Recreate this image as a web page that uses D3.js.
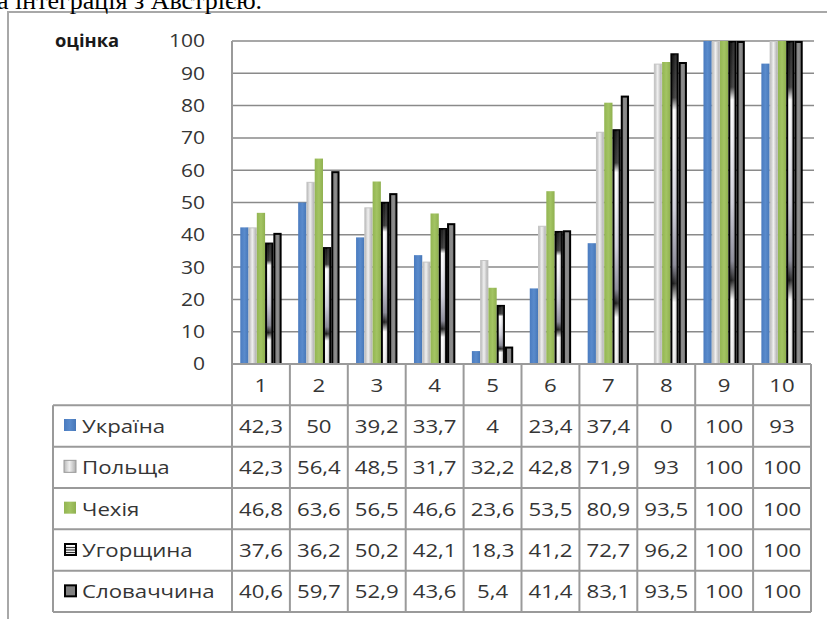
<!DOCTYPE html>
<html>
<head>
<meta charset="utf-8">
<script src="https://cdn.jsdelivr.net/npm/d3@7/dist/d3.min.js"></script>
<style>
  html, body { margin: 0; padding: 0; background: #fff; }
  svg { display: block; }
</style>
</head>
<body>
<svg id="chart" width="827" height="619"></svg>
<script>
// Categories (question numbers) and scores per country
const categories = ["1", "2", "3", "4", "5", "6", "7", "8", "9", "10"];
const seriesNames = ["Україна", "Польща", "Чехія", "Угорщина", "Словаччина"];
const ukraine  = [42.3, 50, 39.2, 33.7, 4, 23.4, 37.4, 0, 100, 93];
const poland   = [42.3, 56.4, 48.5, 31.7, 32.2, 42.8, 71.9, 93, 100, 100];
const czechia  = [46.8, 63.6, 56.5, 46.6, 23.6, 53.5, 80.9, 93.5, 100, 100];
const hungary  = [37.6, 36.2, 50.2, 42.1, 18.3, 41.2, 72.7, 96.2, 100, 100];
const slovakia = [40.6, 59.7, 52.9, 43.6, 5.4, 41.4, 83.1, 93.5, 100, 100];
const tableLabels = [
  ["42,3", "50", "39,2", "33,7", "4", "23,4", "37,4", "0", "100", "93"],
  ["42,3", "56,4", "48,5", "31,7", "32,2", "42,8", "71,9", "93", "100", "100"],
  ["46,8", "63,6", "56,5", "46,6", "23,6", "53,5", "80,9", "93,5", "100", "100"],
  ["37,6", "36,2", "50,2", "42,1", "18,3", "41,2", "72,7", "96,2", "100", "100"],
  ["40,6", "59,7", "52,9", "43,6", "5,4", "41,4", "83,1", "93,5", "100", "100"]
];
const yTicks = [0, 10, 20, 30, 40, 50, 60, 70, 80, 90, 100];
const yTitle = "оцінка";
const caption = "а інтеграція з Австрією.";

const seriesValues = [ukraine, poland, czechia, hungary, slovakia];
const series = seriesNames.map((name, i) => ({ name, values: seriesValues[i], idx: i }));

const svg = d3.select("#chart");
const FONT = "'Open Sans', 'Noto Sans', sans-serif";
const TEXT = "#353535";
const LINE = "#9a9a9a";
const WIDEN = 1.17;   // horizontal widening of the table and axis lettering

const plot = { left: 232, right: 811, top: 41, bottom: 364 };
const tableLeft = 53, tableBottom = 612;

// Gradients for the bar fills
const defs = svg.append("defs");
function linGrad(id, horizontal, stops) {
  const g = defs.append("linearGradient").attr("id", id)
    .attr("x1", 0).attr("y1", 0)
    .attr("x2", horizontal ? 1 : 0).attr("y2", horizontal ? 0 : 1);
  stops.forEach(([o, c]) => g.append("stop").attr("offset", o).attr("stop-color", c));
}
linGrad("gBlue", true, [[0, "#4a7bbf"], [0.5, "#5a8bcc"], [1, "#4677b8"]]);
linGrad("gGray", true, [[0, "#b8b8b8"], [0.45, "#f0f0f0"], [1, "#adadad"]]);
linGrad("gGreen", true, [[0, "#93b552"], [0.5, "#a3c463"], [1, "#8fb04f"]]);
linGrad("gChrome", false, [
  [0, "#1a1a1a"], [0.14, "#3a3a3a"], [0.18, "#ffffff"], [0.3, "#f4f4f8"],
  [0.5, "#d0d0dc"], [0.68, "#8a8a98"], [0.74, "#1e1e1e"], [0.8, "#ffffff"], [1, "#eeeeee"]
]);
linGrad("gChromeShade", true, [[0, "rgba(0,0,0,0.1)"], [0.4, "rgba(255,255,255,0)"], [1, "rgba(0,0,0,0.45)"]]);
linGrad("gDark", true, [[0, "#7a7a7a"], [0.5, "#8e8e8e"], [1, "#777777"]]);

const fills = ["url(#gBlue)", "url(#gGray)", "url(#gGreen)", "url(#gChrome)", "url(#gDark)"];
const strokes = ["none", "#c4c4c4", "none", "#000", "#000"];
const strokeW = [0, 1, 0, 2, 2];

// Outer frame (top and left edges visible)
svg.append("rect")
  .attr("x", 8).attr("y", 12).attr("width", 840).attr("height", 640)
  .attr("fill", "none").attr("stroke", "#a8a8a8").attr("stroke-width", 2);

// Caption line above the frame, partly cut by the top edge
svg.append("text")
  .attr("x", -3).attr("y", 9)
  .attr("font-family", "'Liberation Serif', 'Times New Roman', serif")
  .attr("font-size", 26).attr("fill", "#000")
  .text(caption);

// Scales
const x = d3.scaleBand().domain(categories).range([plot.left, plot.right])
  .paddingInner(2 / 7).paddingOuter(1 / 7);
const xs = d3.scaleBand().domain(d3.range(seriesNames.length)).range([0, x.bandwidth()]);
const y = d3.scaleLinear().domain([0, 100]).range([plot.bottom, plot.top]);

// widened text helper
function wideText(sel, tx, ty, anchor, size) {
  return sel.attr("transform", (d, i) => `translate(${tx(d, i)},${ty(d, i)}) scale(${WIDEN},1)`)
    .attr("text-anchor", anchor).attr("dy", "0.36em")
    .attr("font-family", FONT).attr("font-size", size || 19).attr("fill", TEXT);
}

// Gridlines
svg.append("g").selectAll("line").data(yTicks.filter(t => t > 0)).join("line")
  .attr("x1", plot.left).attr("x2", plot.right + 3)
  .attr("y1", d => y(d)).attr("y2", d => y(d))
  .attr("stroke", "#8a8a8a").attr("stroke-width", 1.5);

// Y axis labels
wideText(svg.append("g").selectAll("text").data(yTicks).join("text"),
  () => plot.left - 27, d => y(d), "end", 18)
  .text(d => d);

// Axis title
svg.append("text").attr("transform", `translate(55,47) scale(1.08,1)`)
  .attr("font-family", FONT).attr("font-size", 17).attr("font-weight", "bold")
  .attr("fill", "#1a1a1a").text(yTitle);

// Bars
const groups = svg.append("g").selectAll("g").data(series).join("g");
groups.each(function (s) {
  const g = d3.select(this);
  g.selectAll("rect.bar").data(s.values.map((v, i) => ({ v, c: categories[i] })))
    .join("rect").attr("class", "bar")
    .filter(d => d.v > 0)
    .attr("x", d => x(d.c) + xs(s.idx) + strokeW[s.idx] / 2)
    .attr("y", d => y(d.v) + strokeW[s.idx] / 2)
    .attr("width", xs.bandwidth() - strokeW[s.idx])
    .attr("height", d => y(0) - y(d.v) - strokeW[s.idx] / 2)
    .attr("fill", fills[s.idx])
    .attr("stroke", strokes[s.idx])
    .attr("stroke-width", strokeW[s.idx]);
  if (s.idx === 3) {
    g.selectAll("rect.shade").data(s.values.map((v, i) => ({ v, c: categories[i] })))
      .join("rect").attr("class", "shade")
      .filter(d => d.v > 0)
      .attr("x", d => x(d.c) + xs(s.idx) + 1)
      .attr("y", d => y(d.v) + 1)
      .attr("width", xs.bandwidth() - 2)
      .attr("height", d => y(0) - y(d.v) - 1)
      .attr("fill", "url(#gChromeShade)");
  }
});

// Data table
const rows = d3.scaleBand().domain(["head", ...seriesNames]).range([plot.bottom, tableBottom]);
const colEdges = categories.map(c => x(c) - x.step() * x.paddingOuter()).concat([plot.right]);
const tbl = svg.append("g").attr("stroke", LINE).attr("stroke-width", 2);
tbl.append("line").attr("x1", plot.left).attr("x2", plot.right)
  .attr("y1", plot.bottom).attr("y2", plot.bottom);
seriesNames.forEach(n => {
  tbl.append("line").attr("x1", tableLeft).attr("x2", plot.right)
    .attr("y1", rows(n)).attr("y2", rows(n));
});
tbl.append("line").attr("x1", tableLeft).attr("x2", plot.right)
  .attr("y1", tableBottom).attr("y2", tableBottom);
colEdges.forEach((cx, i) => {
  tbl.append("line").attr("x1", cx).attr("x2", cx)
    .attr("y1", i === 0 ? plot.top : plot.bottom).attr("y2", tableBottom);
});
tbl.append("line").attr("x1", tableLeft).attr("x2", tableLeft)
  .attr("y1", rows(seriesNames[0])).attr("y2", tableBottom);

// header row: category labels
wideText(svg.append("g").selectAll("text").data(categories).join("text"),
  d => x(d) + x.bandwidth() / 2, () => rows("head") + rows.bandwidth() / 2, "middle")
  .text(d => d);

// series rows: legend key + values
series.forEach(s => {
  const cy = rows(s.name) + rows.bandwidth() / 2;
  const key = svg.append("g");
  if (s.idx === 3) {
    key.append("rect").attr("x", 65).attr("y", cy - 6).attr("width", 11).attr("height", 11)
      .attr("fill", "#fff").attr("stroke", "#000").attr("stroke-width", 2);
    [cy - 2.5, cy, cy + 2.5].forEach(yy => key.append("line")
      .attr("x1", 66).attr("x2", 75).attr("y1", yy).attr("y2", yy)
      .attr("stroke", "#333").attr("stroke-width", 1.2));
  } else if (s.idx === 4) {
    key.append("rect").attr("x", 65).attr("y", cy - 6).attr("width", 11).attr("height", 11)
      .attr("fill", "#808080").attr("stroke", "#000").attr("stroke-width", 2);
  } else if (s.idx === 1) {
    key.append("rect").attr("x", 64).attr("y", cy - 7).attr("width", 12).attr("height", 12)
      .attr("fill", "url(#gGray)").attr("stroke", "#999").attr("stroke-width", 1);
  } else {
    key.append("rect").attr("x", 64).attr("y", cy - 7).attr("width", 12).attr("height", 12)
      .attr("fill", fills[s.idx]);
  }
  wideText(svg.append("text"), () => 82, () => cy, "start").text(s.name);
  wideText(svg.append("g").selectAll("text").data(tableLabels[s.idx]).join("text"),
    (d, i) => x(categories[i]) + x.bandwidth() / 2, () => cy, "middle")
    .text(d => d);
});
</script>
</body>
</html>
